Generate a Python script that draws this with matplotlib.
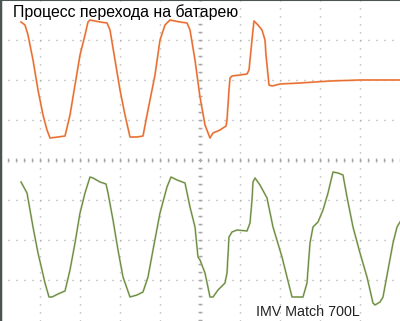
import matplotlib.pyplot as plt
import numpy as np

# Осциллограмма: время, мс (10 мс/дел), напряжение в делениях
t_in = [5.25, 6.25, 7, 8.25, 9.5, 10.75, 11.75, 12.5, 14.5, 16.25, 17.5, 18.75, 20, 21.25, 22,
        22.5, 25, 26.75, 27.5, 28.75, 30, 31.25, 32.5, 34.25, 35.75, 37, 38.75, 40, 41.25, 42.5,
        45, 46.75, 47.5, 48.75, 50, 51.25, 52.5, 53.25, 55, 56.5, 56.75, 57.25, 57.5, 58, 60,
        61.75, 62.25, 62.75, 63.25, 63.5, 64.5, 65.5, 66.25, 66.5, 67, 67.25, 68, 70, 75, 82.5,
        90, 100]
v_in = [3.45, 3.375, 3.125, 2.5, 1.75, 1.125, 0.75, 0.55, 0.575, 0.6, 1.125, 1.875, 2.625, 3.125, 3.45,
        3.5, 3.45, 3.425, 3.25, 2.5, 1.75, 1.125, 0.575, 0.575, 0.6, 1.25, 2.125, 3, 3.375, 3.5,
        3.45, 3.425, 3.25, 2.5, 1.575, 0.875, 0.55, 0.675, 0.75, 0.85, 1, 1.75, 2.05, 2.1, 2.125,
        2.15, 2.25, 2.75, 3.25, 3.475, 3.375, 3.25, 3, 2.625, 2.125, 1.875, 1.85, 1.9, 1.925, 1.975,
        2, 2]

t_out = [5.25, 6.75, 8.25, 9.5, 10.5, 11.25, 12.25, 13, 14.5, 16.25, 17.5, 18.75, 20, 21.25, 22.5,
         23.25, 25, 26.5, 27, 28.25, 29.5, 30.75, 32.5, 34.25, 35.75, 37, 38.25, 40, 41.75, 42.75,
         44.25, 46.25, 47.5, 48.75, 49.5, 50, 51.25, 52.5, 53.25, 54.5, 56.25, 56.75, 57.25, 58,
         59.25, 61.75, 62.5, 63, 63.25, 63.75, 65, 66.75, 68.25, 70.5, 71.75, 73, 75.75, 76.75,
         77.5, 78.25, 79.5, 80.75, 82, 83.25, 84.5, 85.75, 86.75, 88.25, 90, 91.75, 93.25, 93.75,
         95, 95.75, 97, 98.25, 99.25, 100]
v_out = [-0.55, -0.825, -1.675, -2.325, -2.75, -3.075, -3.425, -3.425, -3.35, -3.275, -2.75, -2.075,
         -1.325, -0.825, -0.425, -0.45, -0.55, -0.6, -0.825, -1.5, -2.25, -2.925, -3.425, -3.375,
         -3.3, -2.925, -2.25, -1.325, -0.675, -0.425, -0.5, -0.575, -1.175, -1.675, -2.425, -2.5,
         -2.825, -3.425, -3.425, -3.25, -3.075, -2.825, -1.925, -1.8, -1.75, -1.775, -1.575, -1,
         -0.55, -0.45, -0.625, -0.95, -1.675, -2.425, -2.925, -3.425, -3.425, -3.075, -2.075,
         -1.675, -1.55, -1.25, -0.825, -0.3, -0.325, -0.375, -0.925, -1.675, -2.325, -2.925,
         -3.575, -3.625, -3.55, -3.425, -2.75, -2.075, -1.675, -1.55]

title = "Процесс перехода на батарею"
label = "IMV Match 700L"

fig = plt.figure(figsize=(4, 3.21), dpi=100)
ax = fig.add_axes([0, 0, 1, 1])
ax.set_xlim(0, 100)
ax.set_ylim(-4.025, 4)

# сетка осциллографа, точки через 8 px
dots = (0, (0.8, 4.96))
gc = "#a8a8a8"
for x in np.arange(10, 100, 10):
    ax.axvline(x, color=gc, lw=1, ls=dots)
for y in np.arange(-3, 4, 1):
    ax.axhline(y, color=gc, lw=1, ls=dots)
mt = np.arange(0, 100.1, 2)
ax.plot(mt, np.zeros_like(mt), ls="none", marker="|", ms=3.5, color=gc, mew=1)
mv = np.arange(-4, 4.1, 0.2)
ax.plot(np.full_like(mv, 50), mv, ls="none", marker="_", ms=3.5, color=gc, mew=1)

ax.plot(t_in, v_in, color="#f5a06a", lw=1.4)
ax.plot(t_in, v_in, color="#e2602a", lw=0.6)
ax.plot(t_out, v_out, color="#b0c88c", lw=1.4)
ax.plot(t_out, v_out, color="#5f7c3c", lw=0.6)

ax.text(3.25, 3.575, title, fontsize=11.4, va="baseline", ha="left",
        family="Liberation Sans")
ax.text(64, -3.9, label, fontsize=10.3, va="baseline", ha="left", color="#222222",
        family="Liberation Sans")

for s in ["right", "bottom"]:
    ax.spines[s].set_visible(False)
ax.spines["left"].set_color("#4a5454")
ax.spines["left"].set_linewidth(2.5)
ax.spines["top"].set_color("#4a5454")
ax.spines["top"].set_linewidth(1.5)
ax.set_xticks([])
ax.set_yticks([])

fig.savefig("out.png", dpi=100)
